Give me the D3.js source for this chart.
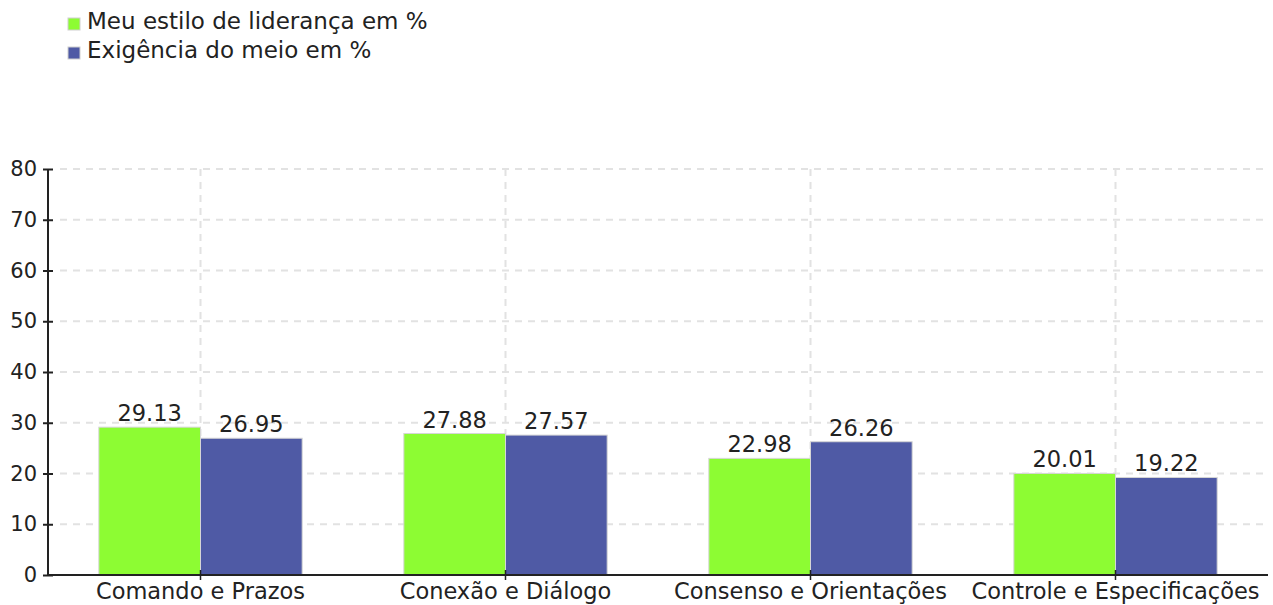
<!DOCTYPE html>
<html>
<head>
<meta charset="utf-8">
<script src="https://cdn.jsdelivr.net/npm/d3@7"></script>
<style>
    body { margin: 0; background: #fff; }
    svg { display: block; }
    text { font-family: "DejaVu Sans", Verdana, sans-serif; }
    .grid line { stroke: #e2e2e2; stroke-dasharray: 7, 6; stroke-width: 2; }
</style>
</head>
<body>
<svg id="chart" width="1273" height="605"></svg>
<script>
var categories = ['Comando e Prazos', 'Conexão e Diálogo', 'Consenso e Orientações', 'Controle e Especificações'];
var seriesNames = ['Meu estilo de liderança em %', 'Exigência do meio em %'];
var seriesColors = ['#8dfc33', '#4f5aa5'];
var liderancaValues = [29.13, 27.88, 22.98, 20.01];
var exigenciaValues = [26.95, 27.57, 26.26, 19.22];
var yTicks = [0, 10, 20, 30, 40, 50, 60, 70, 80];

var FONT = '"DejaVu Sans", Verdana, sans-serif';
var svg = d3.select('#chart');

var margin = { top: 169, right: 5, bottom: 30, left: 48 };
var width = 1273 - margin.left - margin.right;
var height = 605 - margin.top - margin.bottom;

var x = d3.scaleBand().domain(categories).range([0, width]).paddingInner(0).paddingOuter(0);
var bandW = x.bandwidth();
var barW = bandW / 3;

var y = d3.scaleLinear().domain([0, 80]).range([height, 0]);

var g = svg.append('g').attr('transform', 'translate(' + margin.left + ',' + margin.top + ')');

// grid
var grid = g.append('g').attr('class', 'grid');
grid.selectAll('line.h').data(yTicks.slice(1)).enter().append('line')
    .attr('class', 'h')
    .attr('x1', 12).attr('x2', width)
    .attr('y1', function (d) { return y(d); }).attr('y2', function (d) { return y(d); });
grid.selectAll('line.v').data(categories).enter().append('line')
    .attr('class', 'v')
    .attr('x1', function (d) { return x(d) + bandW / 2; })
    .attr('x2', function (d) { return x(d) + bandW / 2; })
    .attr('y1', 0).attr('y2', height);

// bars
var data = categories.map(function (c, i) {
    return { cat: c, values: [liderancaValues[i], exigenciaValues[i]] };
});

var groups = g.selectAll('g.cat').data(data).enter().append('g')
    .attr('class', 'cat')
    .attr('transform', function (d) { return 'translate(' + (x(d.cat) + bandW / 6) + ',0)'; });

groups.selectAll('rect').data(function (d) { return d.values; }).enter().append('rect')
    .attr('x', function (d, i) { return i * barW; })
    .attr('y', function (d) { return y(d); })
    .attr('width', barW)
    .attr('height', function (d) { return height - y(d); })
    .attr('fill', function (d, i) { return seriesColors[i]; })
    .attr('stroke', '#d6d6d6')
    .attr('stroke-width', 1);

groups.selectAll('text').data(function (d) { return d.values; }).enter().append('text')
    .attr('x', function (d, i) { return i * barW + barW / 2; })
    .attr('y', function (d) { return y(d) - 6; })
    .attr('text-anchor', 'middle')
    .attr('font-family', FONT)
    .attr('font-size', 22.5)
    .attr('fill', '#222')
    .text(function (d) { return d.toFixed(2); });

// axes
var yAxis = d3.axisLeft(y).tickValues(yTicks).tickSize(5).tickPadding(6);
var ya = g.append('g').call(yAxis).attr('font-family', FONT);
ya.select('.domain').remove();
ya.append('line').attr('x1', 0).attr('x2', 0).attr('y1', 0).attr('y2', height)
    .attr('stroke', '#222').attr('stroke-width', 2);
ya.selectAll('.tick line').attr('x1', -5).attr('x2', 5).attr('stroke', '#222').attr('stroke-width', 2);
ya.selectAll('.tick text').attr('font-size', 21).attr('fill', '#222').attr('x', -11);

var xAxis = d3.axisBottom(x).tickSize(5).tickPadding(4);
var xa = g.append('g').attr('transform', 'translate(0,' + height + ')').call(xAxis).attr('font-family', FONT);
xa.select('.domain').remove();
xa.append('line').attr('x1', 0).attr('x2', width).attr('y1', 0).attr('y2', 0)
    .attr('stroke', '#222').attr('stroke-width', 2);
xa.selectAll('.tick line').attr('y1', -5).attr('y2', 5).attr('stroke', '#222').attr('stroke-width', 1.5);
xa.selectAll('.tick text').attr('font-size', 22.5).attr('fill', '#222').attr('dy', '0.68em');

// legend
var legend = svg.append('g').attr('transform', 'translate(68,18)');
var li = legend.selectAll('g').data(seriesNames).enter().append('g')
    .attr('transform', function (d, i) { return 'translate(0,' + (i * 29) + ')'; });
li.append('rect').attr('width', 12).attr('height', 12)
    .attr('fill', function (d, i) { return seriesColors[i]; })
    .attr('stroke', '#cfcfcf').attr('stroke-width', 1);
li.append('text').attr('x', 19).attr('y', 11).attr('font-family', FONT).attr('font-size', 23).attr('fill', '#222')
    .text(function (d) { return d; });
</script>
</body>
</html>
